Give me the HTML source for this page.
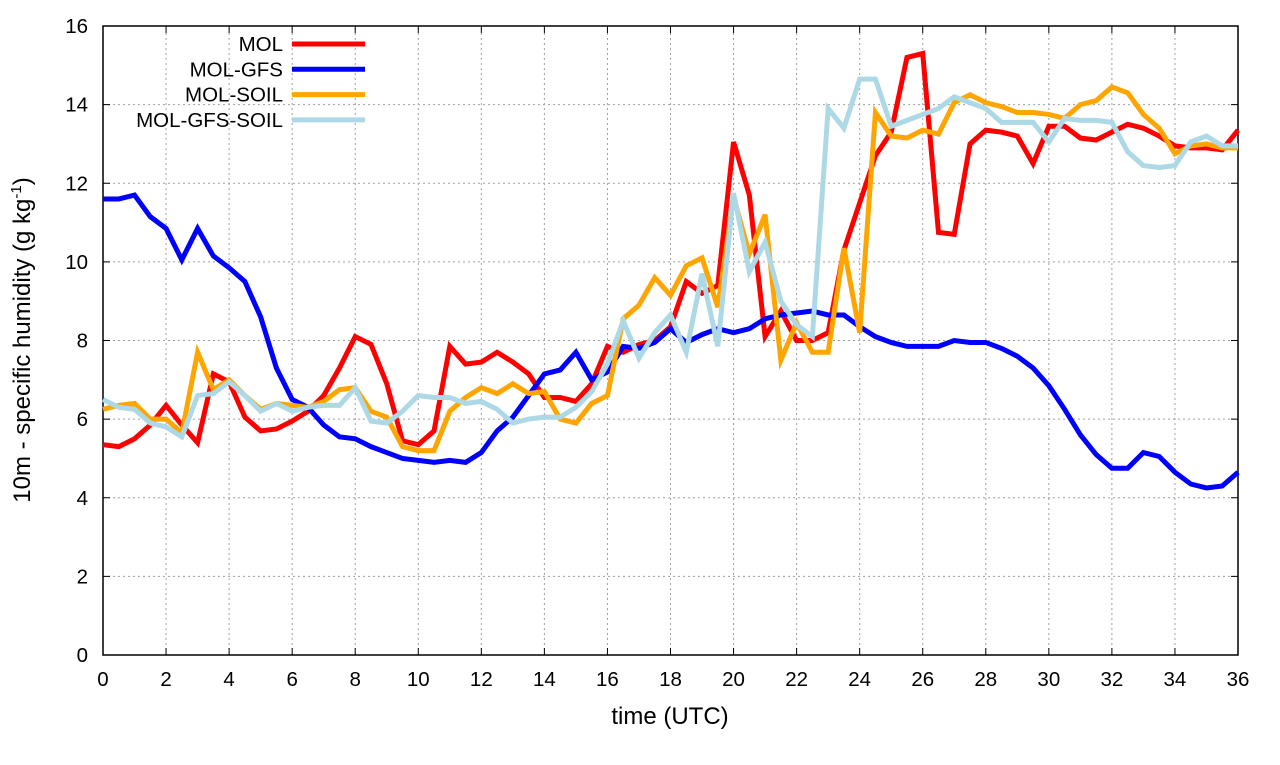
<!DOCTYPE html>
<html><head><meta charset="utf-8"><style>
body{margin:0;background:#fff}
svg text{font-family:"Liberation Sans",sans-serif;fill:#000}
</style></head><body>
<svg id="chart" width="1280" height="760" xmlns="http://www.w3.org/2000/svg">
<g id="grid"></g><g id="axes"></g><g id="series"></g><g id="legend"></g>
<text x="670" y="724" font-size="24" text-anchor="middle">time (UTC)</text>
<text transform="translate(30,340) rotate(-90)" font-size="24" text-anchor="middle">10m - specific humidity (g kg<tspan font-size="15" dy="-9">-1</tspan><tspan dy="9">)</tspan></text>
</svg>
<script>
const xTicks=[0,2,4,6,8,10,12,14,16,18,20,22,24,26,28,30,32,34,36];
const yTicks=[0,2,4,6,8,10,12,14,16];
const seriesNames=["MOL","MOL-GFS","MOL-SOIL","MOL-GFS-SOIL"];
const seriesColors=["#ff0000","#0000ff","#ffa500","#add8e6"];
const mol=[5.35,5.3,5.5,5.85,6.35,5.85,5.4,7.15,6.95,6.05,5.7,5.75,5.95,6.2,6.6,7.3,8.1,7.9,6.9,5.45,5.35,5.7,7.85,7.4,7.45,7.7,7.45,7.15,6.55,6.55,6.45,6.9,7.85,7.7,7.9,8.0,8.35,9.5,9.2,9.4,13.05,11.7,8.1,8.75,8.0,8.0,8.2,10.3,11.5,12.7,13.3,15.2,15.3,10.75,10.7,13.0,13.35,13.3,13.2,12.5,13.45,13.45,13.15,13.1,13.3,13.5,13.4,13.2,12.95,12.9,12.9,12.85,13.35];
const molGfs=[11.6,11.6,11.7,11.15,10.85,10.05,10.85,10.15,9.85,9.5,8.6,7.3,6.5,6.3,5.85,5.55,5.5,5.3,5.15,5.0,4.95,4.9,4.95,4.9,5.15,5.7,6.05,6.6,7.15,7.25,7.7,7.0,7.2,7.85,7.8,7.95,8.3,7.95,8.15,8.3,8.2,8.3,8.55,8.65,8.7,8.75,8.65,8.65,8.35,8.1,7.95,7.85,7.85,7.85,8.0,7.95,7.95,7.8,7.6,7.3,6.85,6.25,5.6,5.1,4.75,4.75,5.15,5.05,4.65,4.35,4.25,4.3,4.65];
const molSoil=[6.25,6.35,6.4,6.0,6.0,5.65,7.7,6.75,7.0,6.6,6.25,6.4,6.35,6.3,6.45,6.75,6.8,6.2,6.05,5.3,5.2,5.2,6.2,6.55,6.8,6.65,6.9,6.65,6.7,6.0,5.9,6.4,6.6,8.55,8.9,9.6,9.15,9.9,10.1,8.85,11.65,10.2,11.2,7.5,8.45,7.7,7.7,10.35,8.2,13.8,13.2,13.15,13.35,13.25,14.05,14.25,14.05,13.95,13.8,13.8,13.75,13.65,14.0,14.1,14.45,14.3,13.75,13.4,12.75,12.95,13.0,12.9,12.9];
const molGfsSoil=[6.5,6.3,6.25,5.9,5.8,5.55,6.6,6.65,6.95,6.6,6.2,6.4,6.2,6.3,6.35,6.35,6.8,5.95,5.9,6.2,6.6,6.55,6.55,6.4,6.45,6.25,5.9,6.0,6.05,6.05,6.3,6.7,7.4,8.5,7.55,8.2,8.65,7.7,9.7,7.85,11.75,9.75,10.5,9.0,8.4,8.1,13.9,13.4,14.65,14.65,13.45,13.6,13.75,13.9,14.2,14.05,13.9,13.55,13.55,13.55,13.05,13.65,13.6,13.6,13.55,12.8,12.45,12.4,12.45,13.05,13.2,12.95,12.95];
const allSeries=[mol,molGfs,molSoil,molGfsSoil];
const X0=103,X1=1238,Y0=655,Y1=26;
const xs=t=>X0+(X1-X0)*t/36, ys=v=>Y0-(Y0-Y1)*v/16;
const NS="http://www.w3.org/2000/svg";
function mk(tag,attrs,parent){const e=document.createElementNS(NS,tag);for(const k in attrs)e.setAttribute(k,attrs[k]);parent.appendChild(e);return e;}
const grid=document.getElementById('grid'),axes=document.getElementById('axes'),ser=document.getElementById('series'),leg=document.getElementById('legend');
xTicks.forEach(t=>{const x=xs(t);
 if(t>0&&t<36){const l=mk('line',{x1:x,x2:x,y1:Y0,y2:Y1,stroke:'#a0a0a0','stroke-dasharray':'2,3','stroke-width':1},grid);
 
 }
 mk('line',{x1:x,x2:x,y1:Y0,y2:Y0-7,stroke:'#000'},axes);mk('line',{x1:x,x2:x,y1:Y1,y2:Y1+7,stroke:'#000'},axes);
 const tx=mk('text',{x:x,y:Y0+31,'font-size':20.5,'text-anchor':'middle'},axes);tx.textContent=t;
 
 });
yTicks.forEach(v=>{const y=ys(v);
 if(v>0&&v<16){const l=mk('line',{x1:X0,x2:X1,y1:y,y2:y,stroke:'#a0a0a0','stroke-dasharray':'2,3','stroke-width':1},grid);
 
 }
 mk('line',{x1:X0,x2:X0+7,y1:y,y2:y,stroke:'#000'},axes);mk('line',{x1:X1,x2:X1-7,y1:y,y2:y,stroke:'#000'},axes);
 const tx=mk('text',{x:X0-15,y:y+7,'font-size':20.5,'text-anchor':'end'},axes);tx.textContent=v;
 
 });
const fr=mk('rect',{x:X0,y:Y1,width:X1-X0,height:Y0-Y1,fill:'none',stroke:'#000','stroke-width':1.5},axes);


allSeries.forEach((d,i)=>{
 const p=mk('polyline',{points:d.map((v,j)=>xs(j*0.5)+','+ys(v)).join(' '),fill:'none',stroke:seriesColors[i],'stroke-width':5,'stroke-linejoin':'miter'},ser);
 
 
 const ly=44+i*25.3;
 const t=mk('text',{x:283,y:ly+7,'font-size':20.5,'text-anchor':'end'},leg);t.textContent=seriesNames[i];
 
 
 const l=mk('line',{x1:292,x2:365,y1:ly,y2:ly,stroke:seriesColors[i],'stroke-width':5},leg);
 
 
});
</script>
</body></html>
